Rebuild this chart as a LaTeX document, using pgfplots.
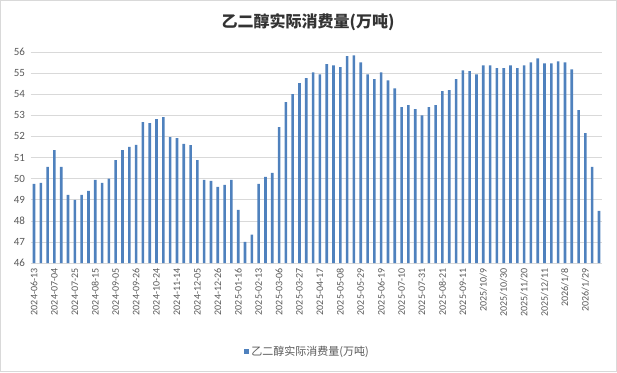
\documentclass[border=0pt]{standalone}
\usepackage{fontspec}
\setmainfont{Carlito}
\newfontfamily\cjk{Noto Sans CJK SC}
\usepackage{pgfplots}
\pgfplotsset{compat=1.18}
\definecolor{barblue}{RGB}{79,129,189}
\definecolor{gridgray}{RGB}{217,217,217}
\definecolor{txtgray}{RGB}{89,89,89}
\begin{document}
\begin{tikzpicture}[x=1pt,y=1pt]
\path[use as bounding box] (0,0) rectangle (617,372);
\draw[gridgray,line width=0.6pt] (0.5,0.5) rectangle (616.5,371.5);
\node[font=\cjk\fontsize{16}{18}\selectfont\bfseries, text=black!80] at (308,350) {乙二醇实际消费量(万吨)};
\begin{axis}[
  at={(30.6pt,109pt)}, anchor=south west,
  scale only axis, width=571.8pt, height=211pt,
  xmin=-0.5, xmax=83.5, ymin=46, ymax=56,
  ytick={46,47,...,56},
  xtick={0,3,...,81},
  xticklabels={2024-06-13,2024-07-04,2024-07-25,2024-08-15,2024-09-05,2024-09-26,2024-10-24,2024-11-14,2024-12-05,2024-12-26,2025-01-16,2025-02-13,2025-03-06,2025-03-27,2025-04-17,2025-05-08,2025-05-29,2025-06-19,2025-07-10,2025-07-31,2025-08-21,2025-09-11,2025/10/9,2025/10/30,2025/11/20,2025/12/11,2026/1/8,2026/1/29},
  x tick label style={rotate=90, anchor=east, font=\fontsize{10}{12}\selectfont, text=txtgray},
  y tick label style={font=\fontsize{11}{12}\selectfont, text=txtgray},
  /pgf/number format/assume math mode=true,
  ymajorgrids, grid style={gridgray, line width=0.6pt},
  axis line style={draw=none},
  axis x line*=bottom, axis y line*=left,
  x axis line style={draw=gridgray},
  major tick length=0pt,
  tick style={draw=none},
  xticklabel shift=2pt, yticklabel shift=2pt,
  legend style={at={(axis description cs:0.484,-0.42)}, anchor=center, draw=none, font=\cjk\fontsize{11}{12}\selectfont, text=txtgray, inner sep=1pt},
  legend image code/.code={\fill[barblue] (0pt,-2.7pt) rectangle (5.4pt,2.7pt);},
]
\addplot[ybar, bar width=2.6pt, fill=barblue, draw=none] coordinates {
(0,49.75) (1,49.8) (2,50.55) (3,51.35) (4,50.55) (5,49.23) (6,48.99) (7,49.23) (8,49.42) (9,49.94)
(10,49.8) (11,50.0) (12,50.88) (13,51.35) (14,51.5) (15,51.6) (16,52.68) (17,52.63) (18,52.82) (19,52.91)
(20,51.97) (21,51.92) (22,51.64) (23,51.59) (24,50.88) (25,49.94) (26,49.89) (27,49.61) (28,49.7) (29,49.94)
(30,48.52) (31,47.0) (32,47.34) (33,49.75) (34,50.08) (35,50.27) (36,52.44) (37,53.62) (38,54.0) (39,54.52)
(40,54.76) (41,55.04) (42,54.94) (43,55.42) (44,55.37) (45,55.28) (46,55.8) (47,55.84) (48,55.51) (49,54.94)
(50,54.71) (51,55.04) (52,54.66) (53,54.28) (54,53.39) (55,53.48) (56,53.29) (57,53.0) (58,53.39) (59,53.48)
(60,54.14) (61,54.19) (62,54.71) (63,55.13) (64,55.09) (65,54.94) (66,55.37) (67,55.37) (68,55.23) (69,55.23)
(70,55.37) (71,55.23) (72,55.37) (73,55.51) (74,55.7) (75,55.46) (76,55.46) (77,55.56) (78,55.51) (79,55.18)
(80,53.24) (81,52.16) (82,50.55) (83,48.47)
};
\addlegendentry{乙二醇实际消费量(万吨)}
\end{axis}
\end{tikzpicture}
\end{document}
